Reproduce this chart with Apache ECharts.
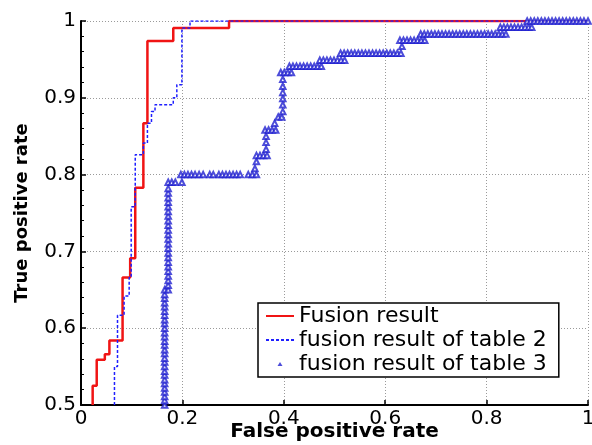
<!DOCTYPE html>
<html>
<head>
<meta charset="utf-8">
<script src="https://cdn.jsdelivr.net/npm/echarts@6/dist/echarts.min.js"></script>
<style>
html,body{margin:0;padding:0;background:#fff;}
#chart{width:592px;height:445px;}
</style>
</head>
<body>
<div id="chart"></div>
<script>
// ---- data ----
const seriesNames = ['Fusion result', 'fusion result of table 2', 'fusion result of table 3'];
const xTickLabels = ['0', '0.2', '0.4', '0.6', '0.8', '1'];
const yTickLabels = ['0.5', '0.6', '0.7', '0.8', '0.9', '1'];
const xAxisTitle = 'False positive rate';
const yAxisTitle = 'True positive rate';

// Fusion result (ROC step corners: [FPR, TPR])
const fusionResult = [
  [0.023,0.5],[0.023,0.525],[0.031,0.525],[0.031,0.559],[0.047,0.559],[0.047,0.566],
  [0.056,0.566],[0.056,0.584],[0.082,0.584],[0.082,0.666],[0.097,0.666],[0.097,0.691],
  [0.107,0.691],[0.107,0.783],[0.123,0.783],[0.123,0.867],[0.131,0.867],[0.131,0.974],
  [0.182,0.974],[0.182,0.991],[0.292,0.991],[0.292,1],[1,1]
];

// fusion result of table 2
const table2Result = [
  [0.066,0.5],[0.066,0.55],[0.072,0.55],[0.072,0.617],[0.085,0.617],[0.085,0.642],
  [0.095,0.642],[0.095,0.666],[0.099,0.666],[0.099,0.758],[0.107,0.758],[0.107,0.826],
  [0.123,0.826],[0.123,0.841],[0.131,0.841],[0.131,0.867],[0.139,0.867],[0.139,0.882],
  [0.146,0.882],[0.146,0.891],[0.182,0.891],[0.182,0.9],[0.189,0.9],[0.189,0.917],
  [0.199,0.917],[0.199,0.991],[0.215,0.991],[0.215,1],[1,1]
];

// fusion result of table 3 (individual markers)
const table3Result = [
  [0.165,0.500],[0.165,0.506],[0.165,0.511],[0.165,0.517],[0.165,0.522],[0.165,0.528],[0.165,0.533],
  [0.165,0.539],[0.165,0.544],[0.165,0.550],[0.165,0.556],[0.165,0.561],[0.165,0.567],[0.165,0.572],
  [0.165,0.578],[0.165,0.583],[0.165,0.589],[0.165,0.594],[0.165,0.600],[0.165,0.606],[0.165,0.611],
  [0.165,0.617],[0.165,0.622],[0.165,0.628],[0.165,0.633],[0.165,0.639],[0.165,0.644],[0.165,0.650],
  [0.172,0.650],[0.172,0.656],[0.172,0.662],[0.172,0.668],[0.172,0.674],[0.172,0.680],[0.172,0.686],
  [0.172,0.692],[0.172,0.698],[0.172,0.704],[0.172,0.710],[0.172,0.716],[0.172,0.722],[0.172,0.728],
  [0.172,0.734],[0.172,0.740],[0.172,0.746],[0.172,0.752],[0.172,0.758],[0.172,0.764],[0.172,0.770],
  [0.172,0.776],[0.172,0.782],[0.172,0.790],[0.179,0.790],[0.186,0.790],[0.199,0.790],
  [0.197,0.800],[0.204,0.800],[0.211,0.800],[0.218,0.800],[0.225,0.800],[0.233,0.800],[0.241,0.800],
  [0.254,0.800],[0.261,0.800],[0.272,0.800],[0.279,0.800],[0.286,0.800],[0.293,0.800],[0.300,0.800],
  [0.307,0.800],[0.314,0.800],[0.330,0.800],[0.338,0.800],[0.346,0.800],
  [0.343,0.808],[0.346,0.817],[0.346,0.825],[0.353,0.825],[0.360,0.825],[0.367,0.825],
  [0.365,0.833],[0.365,0.842],[0.365,0.850],[0.363,0.858],[0.370,0.858],[0.377,0.858],[0.384,0.858],
  [0.382,0.867],[0.389,0.875],[0.396,0.875],
  [0.398,0.882],[0.398,0.891],[0.398,0.899],[0.398,0.907],[0.398,0.915],[0.398,0.924],
  [0.394,0.933],[0.401,0.933],[0.408,0.933],[0.415,0.933],
  [0.411,0.941],[0.418,0.941],[0.425,0.941],[0.432,0.941],[0.439,0.941],[0.446,0.941],[0.453,0.941],
  [0.460,0.941],[0.467,0.941],[0.474,0.941],
  [0.471,0.949],[0.478,0.949],[0.485,0.949],[0.492,0.949],[0.499,0.949],[0.506,0.949],[0.513,0.949],
  [0.520,0.949],
  [0.512,0.958],[0.519,0.958],[0.526,0.958],[0.533,0.958],[0.540,0.958],[0.547,0.958],[0.554,0.958],
  [0.561,0.958],[0.568,0.958],[0.575,0.958],[0.582,0.958],[0.589,0.958],[0.596,0.958],[0.603,0.958],
  [0.610,0.958],[0.617,0.958],[0.624,0.958],[0.631,0.958],
  [0.633,0.967],
  [0.629,0.975],[0.636,0.975],[0.643,0.975],[0.650,0.975],[0.657,0.975],[0.664,0.975],[0.671,0.975],
  [0.678,0.975],
  [0.670,0.983],[0.677,0.983],[0.684,0.983],[0.691,0.983],[0.698,0.983],[0.705,0.983],[0.712,0.983],
  [0.719,0.983],[0.726,0.983],[0.733,0.983],[0.740,0.983],[0.747,0.983],[0.754,0.983],[0.761,0.983],
  [0.768,0.983],[0.775,0.983],[0.782,0.983],[0.789,0.983],[0.796,0.983],[0.803,0.983],[0.810,0.983],
  [0.817,0.983],[0.824,0.983],[0.831,0.983],[0.838,0.983],
  [0.827,0.992],[0.834,0.992],[0.841,0.992],[0.848,0.992],[0.855,0.992],[0.862,0.992],[0.869,0.992],
  [0.876,0.992],[0.883,0.992],[0.889,0.992],
  [0.880,1],[0.887,1],[0.894,1],[0.901,1],[0.908,1],[0.915,1],[0.922,1],[0.929,1],[0.936,1],
  [0.943,1],[0.950,1],[0.957,1],[0.964,1],[0.971,1],[0.978,1],[0.985,1],[0.992,1],[1.0,1]
];

// ---- chart ----
const FONT = 'DejaVu Sans';
const RED = '#f01414';
const BLUE = '#1f1fff';
const TRI = '#2020d0';
const hiddenSymbol = {color: 'rgba(0,0,0,0)', borderColor: 'rgba(0,0,0,0)', borderWidth: 0};
const chart = echarts.init(document.getElementById('chart'), null, {renderer: 'canvas'});
chart.setOption({
  animation: false,
  backgroundColor: '#ffffff',
  grid: {left: 81, right: 4, top: 21, bottom: 40, containLabel: false, outerBoundsMode: 'none'},
  legend: {
    orient: 'vertical',
    left: 258, top: 303,
    width: 300,
    padding: [2, 12, 2, 7],
    itemGap: 2,
    itemWidth: 28, itemHeight: 6,
    backgroundColor: '#ffffff',
    borderColor: '#000000', borderWidth: 1.5, borderRadius: 0,
    textStyle: {fontFamily: FONT, fontSize: 22, color: '#000'},
    data: [
      {name: seriesNames[0], itemStyle: hiddenSymbol},
      {name: seriesNames[1], itemStyle: hiddenSymbol},
      {name: seriesNames[2], icon: 'path://M0,0M28,6M11.5,5L16.5,5L14,1Z',
        itemStyle: {color: TRI, borderWidth: 0}}
    ]
  },
  xAxis: {
    type: 'value', min: 0, max: 1, interval: 0.2,
    name: xAxisTitle, nameLocation: 'middle', nameGap: 17, nameMoveOverlap: false,
    nameTextStyle: {fontFamily: FONT, fontWeight: 'bold', fontSize: 20, color: '#000', verticalAlign: 'top'},
    axisLine: {show: true, onZero: false, lineStyle: {color: '#000', width: 2}},
    axisTick: {show: true, inside: true, length: 5, lineStyle: {color: '#000', width: 1.5}},
    axisLabel: {fontFamily: FONT, fontSize: 20, color: '#000', margin: 4,
      formatter: v => xTickLabels[Math.round(v / 0.2)]},
    splitLine: {show: true, lineStyle: {color: '#9a9a9a', type: [1, 2], width: 1}}
  },
  yAxis: {
    type: 'value', min: 0.5, max: 1, interval: 0.1,
    name: yAxisTitle, nameLocation: 'middle', nameGap: 50, nameMoveOverlap: false,
    nameTextStyle: {fontFamily: FONT, fontWeight: 'bold', fontSize: 18, color: '#000'},
    axisLine: {show: true, onZero: false, lineStyle: {color: '#000', width: 2}},
    axisTick: {show: true, inside: true, length: 5, lineStyle: {color: '#000', width: 1.5}},
    minorTick: {show: true, splitNumber: 5, length: 3, lineStyle: {color: '#000', width: 1}},
    axisLabel: {fontFamily: FONT, fontSize: 20, color: '#000', margin: 5,
      formatter: v => yTickLabels[Math.round((v - 0.5) / 0.1)]},
    splitLine: {show: true, lineStyle: {color: '#9a9a9a', type: [1, 2], width: 1}}
  },
  series: [
    {
      name: seriesNames[1], type: 'line', data: table2Result,
      showSymbol: false, symbol: 'none', z: 3,
      lineStyle: {color: BLUE, width: 1.5, type: [3, 2]},
      itemStyle: {color: BLUE}
    },
    {
      name: seriesNames[0], type: 'line', data: fusionResult,
      showSymbol: false, symbol: 'none', z: 2,
      lineStyle: {color: RED, width: 2.5},
      itemStyle: {color: RED}
    },
    {
      name: seriesNames[2], type: 'scatter', data: table3Result,
      symbol: 'emptyTriangle', symbolSize: 5.5, z: 4,
      itemStyle: {color: TRI, borderWidth: 1.2}
    }
  ]
});
</script>
</body>
</html>
